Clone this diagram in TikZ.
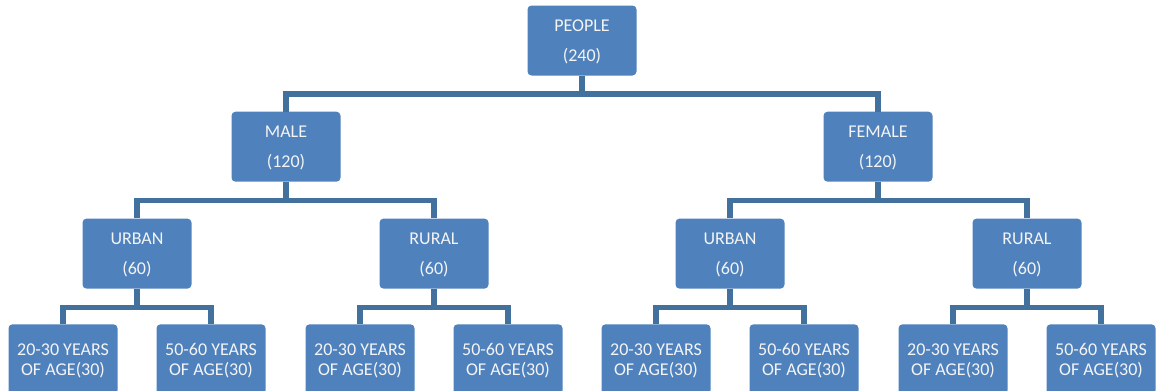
\documentclass[tikz,border=0pt]{standalone}
\usepackage{fontspec}
\setmainfont{Carlito}
\definecolor{boxfill}{HTML}{4F81BD}
\definecolor{linecol}{HTML}{41719C}
\definecolor{txt}{HTML}{F4F4F4}
\begin{document}
\begin{tikzpicture}[x=1pt,y=-1pt,
  box/.style={fill=boxfill, rounded corners=4pt, minimum width=109pt, minimum height=70pt,
    inner sep=0pt, align=center, text=txt, text depth=0pt, font=\fontsize{18}{30}\selectfont},
  leaf/.style={box, font=\fontsize{18}{20}\selectfont},
  conn/.style={draw=linecol, line width=5.6pt, line join=miter}]
\useasboundingbox (0,0) rectangle (1160,391);
\clip (0,0) rectangle (1160,391);
% nodes
\node[box] (people) at (582,40.5) {PEOPLE\\(240)};
\node[box] (male) at (286,146.7) {MALE\\(120)};
\node[box] (female) at (878,146.7) {FEMALE\\(120)};
\node[box] (mu) at (137,253.6) {URBAN\\(60)};
\node[box] (mr) at (434,253.6) {RURAL\\(60)};
\node[box] (fu) at (730,253.6) {URBAN\\(60)};
\node[box] (fr) at (1027,253.6) {RURAL\\(60)};
\node[leaf] (mua) at (63,359.3) {20-30 YEARS\\OF AGE(30)};
\node[leaf] (mub) at (211,359.3) {50-60 YEARS\\OF AGE(30)};
\node[leaf] (mra) at (360,359.3) {20-30 YEARS\\OF AGE(30)};
\node[leaf] (mrb) at (508,359.3) {50-60 YEARS\\OF AGE(30)};
\node[leaf] (fua) at (656,359.3) {20-30 YEARS\\OF AGE(30)};
\node[leaf] (fub) at (804,359.3) {50-60 YEARS\\OF AGE(30)};
\node[leaf] (fra) at (953,359.3) {20-30 YEARS\\OF AGE(30)};
\node[leaf] (frb) at (1101,359.3) {50-60 YEARS\\OF AGE(30)};
% connectors
\foreach \p/\a/\b in {people/male/female, male/mu/mr, female/fu/fr, mu/mua/mub, mr/mra/mrb, fu/fua/fub, fr/fra/frb}{
  \draw[conn] (\p.south) -- ++(0,18.5) -| (\a.north);
  \draw[conn] (\p.south) -- ++(0,18.5) -| (\b.north);
}
\end{tikzpicture}
\end{document}
